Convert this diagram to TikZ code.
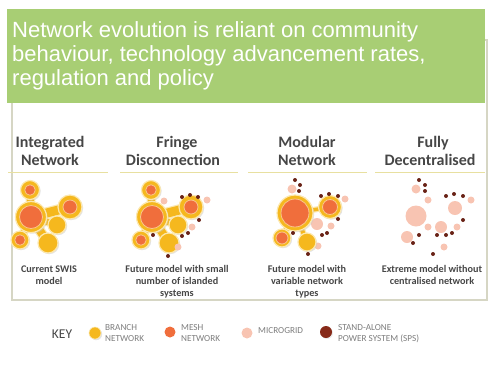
\documentclass[tikz,border=0pt]{standalone}
\usepackage{fontspec}
\setmainfont{Carlito}
\newfontfamily\bannerfont{Liberation Sans}
\usetikzlibrary{shadows}
\definecolor{bannergreen}{RGB}{168,206,116}
\definecolor{headgray}{RGB}{70,70,70}
\definecolor{keygray}{RGB}{125,125,125}
\definecolor{ruleyellow}{RGB}{232,224,160}
\definecolor{framegray}{RGB}{214,214,196}
\definecolor{branchyellow}{RGB}{245,184,30}
\definecolor{branchhalo}{RGB}{252,232,175}
\definecolor{meshorange}{RGB}{240,110,60}
\definecolor{meshring}{RGB}{250,196,140}
\definecolor{micropink}{RGB}{248,196,178}
\definecolor{spsbrown}{RGB}{105,34,22}
\definecolor{spskey}{RGB}{135,42,25}

\begin{document}
\begin{tikzpicture}[x=1pt, y=-1pt,
% common options for the texts:
banner/.style = {font=\bannerfont\fontsize{22}{24}\selectfont, text=white, anchor=base west, inner sep=0},
head/.style = {font=\fontsize{16}{16}\selectfont\bfseries, text=headgray, anchor=base, inner sep=0},
caption/.style = {font=\fontsize{10.2}{12}\selectfont\bfseries, text=headgray, anchor=base, inner sep=0},
keytext/.style = {font=\fontsize{9.2}{11}\selectfont, text=keygray, anchor=base west, inner sep=0},
% common options for the networks:
branch/.style = {circle, fill=branchyellow, draw=branchhalo, line width=1.2pt, inner sep=0,
            drop shadow={shadow xshift=1.2pt, shadow yshift=-1.2pt, fill=black!22}},
mesh/.style = {circle, fill=meshorange, draw=meshring, line width=0.8pt, inner sep=0},
micro/.style = {circle, fill=micropink, inner sep=0},
sps/.style = {circle, fill=spsbrown, inner sep=0, minimum size=4pt},
branchlink/.style = {draw=branchyellow, line width=#1, preaction={draw=branchhalo, line width=#1+2.4pt}}]
\useasboundingbox (0,0) rectangle (495,365);

% frame and banner
\draw[framegray, line width=1.5pt] (12,40) rectangle (487,300);
\fill[bannergreen] (7,9) rectangle (485,103);
\node[banner] (T1) at (12,37) {Network evolution is reliant on community};
\node[banner] (T2) at (12,61) {behaviour, technology advancement rates,};
\node[banner] (T3) at (12,85) {regulation and policy};

% headings
\node[head] (H1a) at (50,147) {Integrated};
\node[head] (H1b) at (50,165) {Network};
\node[head] (H2a) at (177,147) {Fringe};
\node[head] (H2b) at (173,165) {Disconnection};
\node[head] (H3a) at (307,147) {Modular};
\node[head] (H3b) at (307,165) {Network};
\node[head] (H4a) at (433,147) {Fully};
\node[head] (H4b) at (430,165) {Decentralised};

\draw[ruleyellow, line width=1pt] (8,172) -- (108,172);
\draw[ruleyellow, line width=1pt] (120,172) -- (238,172);
\draw[ruleyellow, line width=1pt] (248,172) -- (367,172);
\draw[ruleyellow, line width=1pt] (375,172) -- (485,172);

% integrated network
\coordinate (I1) at (30,190);
\coordinate (I2) at (31,217);
\coordinate (I3) at (70,207);
\coordinate (I4) at (57,225);
\coordinate (I5) at (20,240);
\coordinate (I6) at (48,243);
\draw[branchlink=7pt] (I1) -- (I2);
\draw[branchlink=9pt] (I2) -- (I3);
\draw[branchlink=6pt] (I2) -- (I4);
\draw[branchlink=6pt] (I2) -- (I5);
\draw[branchlink=8pt] (I2) -- (I6);
\node[branch, minimum size=19pt] (I1b) at (I1) {};
\node[branch, minimum size=31pt] (I2b) at (I2) {};
\node[branch, minimum size=24pt] (I3b) at (I3) {};
\node[branch, minimum size=18pt] (I4b) at (I4) {};
\node[branch, minimum size=18pt] (I5b) at (I5) {};
\node[branch, minimum size=20pt] (I6b) at (I6) {};
\node[mesh, minimum size=10.5pt] (I1m) at (I1) {};
\node[mesh, minimum size=23pt] (I2m) at (I2) {};
\node[mesh, minimum size=14pt] (I3m) at (I3) {};
\node[mesh, minimum size=10.5pt] (I5m) at (I5) {};

% fringe disconnection
\coordinate (F1) at (151,190);
\coordinate (F2) at (152,217);
\coordinate (F3) at (191,207);
\coordinate (F4) at (178,225);
\coordinate (F5) at (141,240);
\coordinate (F6) at (169,243);
\draw[branchlink=7pt] (F1) -- (F2);
\draw[branchlink=9pt] (F2) -- (F3);
\draw[branchlink=6pt] (F2) -- (F4);
\draw[branchlink=6pt] (F2) -- (F5);
\draw[branchlink=8pt] (F2) -- (F6);
\node[branch, minimum size=19pt] (F1b) at (F1) {};
\node[branch, minimum size=31pt] (F2b) at (F2) {};
\node[branch, minimum size=24pt] (F3b) at (F3) {};
\node[branch, minimum size=18pt] (F4b) at (F4) {};
\node[branch, minimum size=18pt] (F5b) at (F5) {};
\node[branch, minimum size=20pt] (F6b) at (F6) {};
\node[mesh, minimum size=10.5pt] (F1m) at (F1) {};
\node[mesh, minimum size=23pt] (F2m) at (F2) {};
\node[mesh, minimum size=14pt] (F3m) at (F3) {};
\node[mesh, minimum size=10.5pt] (F5m) at (F5) {};
\node[micro, minimum size=7pt] (Fp1) at (164,201) {};
\node[micro, minimum size=7pt] (Fp2) at (207,200) {};
\node[micro, minimum size=7pt] (Fp3) at (192,227) {};
\node[micro, minimum size=7pt] (Fp4) at (178,247) {};
\node[sps] (Fs1) at (182,197) {};
\node[sps] (Fs2) at (190,195) {};
\node[sps] (Fs3) at (198,197) {};
\node[sps] (Fs4) at (199,220) {};
\node[sps] (Fs5) at (153,235) {};
\node[sps] (Fs6) at (182,236) {};
\node[sps] (Fs7) at (188,233) {};
\node[sps] (Fs8) at (168,256) {};

% modular network
\node[micro, minimum size=9pt] (Mp1) at (292,189) {};
\node[micro, minimum size=7pt] (Mp2) at (303,200) {};
\node[micro, minimum size=7pt] (Mp3) at (345,199) {};
\node[micro, minimum size=12pt] (Mp4) at (317,224) {};
\node[micro, minimum size=7pt] (Mp5) at (331,226) {};
\node[micro, minimum size=7pt] (Mp6) at (318,246) {};
\coordinate (M1) at (295,213);
\coordinate (M2) at (330,207);
\coordinate (M3) at (282,238);
\coordinate (M4) at (307,242);
\draw[branchlink=3.5pt] (M1) -- (M2);
\draw[branchlink=5pt] (M1) -- (M3);
\draw[branchlink=4pt] (M1) -- (M4);
\node[branch, minimum size=36pt] (M1b) at (M1) {};
\node[branch, minimum size=23pt] (M2b) at (M2) {};
\node[branch, minimum size=18pt] (M3b) at (M3) {};
\node[branch, minimum size=18pt] (M4b) at (M4) {};
\node[mesh, minimum size=28pt] (M1m) at (M1) {};
\node[mesh, minimum size=15pt] (M2m) at (M2) {};
\node[mesh, minimum size=12pt] (M3m) at (M3) {};
\node[sps] (Ms1) at (295,180) {};
\node[sps] (Ms2) at (300,185) {};
\node[sps] (Ms3) at (299,191) {};
\node[sps] (Ms4) at (321,196) {};
\node[sps] (Ms5) at (329,194) {};
\node[sps] (Ms6) at (338,196) {};
\node[sps] (Ms7) at (338,219) {};
\node[sps] (Ms8) at (322,235) {};
\node[sps] (Ms9) at (327,233) {};
\node[sps] (Ms10) at (293,233) {};
\node[sps] (Ms11) at (308,254) {};

% fully decentralised
\node[micro, minimum size=21pt] (Dp1) at (416,216) {};
\node[micro, minimum size=9pt] (Dp2) at (416,189) {};
\node[micro, minimum size=7pt] (Dp3) at (428,200) {};
\node[micro, minimum size=14pt] (Dp4) at (455,208) {};
\node[micro, minimum size=7pt] (Dp5) at (471,200) {};
\node[micro, minimum size=12pt] (Dp6) at (441,227) {};
\node[micro, minimum size=7pt] (Dp7) at (428,227) {};
\node[micro, minimum size=7pt] (Dp8) at (457,227) {};
\node[micro, minimum size=12pt] (Dp9) at (407,237) {};
\node[micro, minimum size=7pt] (Dp10) at (444,247) {};
\node[sps] (Ds1) at (419,180) {};
\node[sps] (Ds2) at (425,185) {};
\node[sps] (Ds3) at (425,191) {};
\node[sps] (Ds4) at (446,196) {};
\node[sps] (Ds5) at (454,194) {};
\node[sps] (Ds6) at (463,196) {};
\node[sps] (Ds7) at (463,220) {};
\node[sps] (Ds8) at (437,235) {};
\node[sps] (Ds9) at (446,235) {};
\node[sps] (Ds10) at (452,233) {};
\node[sps] (Ds11) at (419,235) {};
\node[sps] (Ds12) at (413,243) {};
\node[sps] (Ds13) at (433,254) {};

% captions
\node[caption] (C1a) at (49,272) {Current SWIS};
\node[caption] (C1b) at (49,284) {model};
\node[caption] (C2a) at (177,272) {Future model with small};
\node[caption] (C2b) at (177,284) {number of islanded};
\node[caption] (C2c) at (177,296) {systems};
\node[caption] (C3a) at (307,272) {Future model with};
\node[caption] (C3b) at (307,284) {variable network};
\node[caption] (C3c) at (307,296) {types};
\node[caption] (C4a) at (432,272) {Extreme model without};
\node[caption] (C4b) at (432,284) {centralised network};

% key
\node[font=\fontsize{13.5}{14}\selectfont, text=headgray, anchor=base, inner sep=0] (K0) at (62,338) {KEY};
\node[branch, minimum size=12pt, line width=0.6pt] (K1) at (95,333) {};
\node[keytext] (K1a) at (105,330) {BRANCH};
\node[keytext] (K1b) at (105,341) {NETWORK};
\node[mesh, minimum size=11pt, draw=none] (K2) at (170,332) {};
\node[keytext] (K2a) at (181,330) {MESH};
\node[keytext] (K2b) at (181,341) {NETWORK};
\node[micro, minimum size=11pt] (K3) at (247,333) {};
\node[keytext] (K3a) at (258,333.5) {MICROGRID};
\node[sps, fill=spskey, minimum size=12pt, drop shadow={shadow xshift=1pt, shadow yshift=-1pt, fill=black!15}] (K4) at (326,332) {};
\node[keytext] (K4a) at (338,330) {STAND-ALONE};
\node[keytext] (K4b) at (338,341) {POWER SYSTEM (SPS)};
\end{tikzpicture}
\end{document}
